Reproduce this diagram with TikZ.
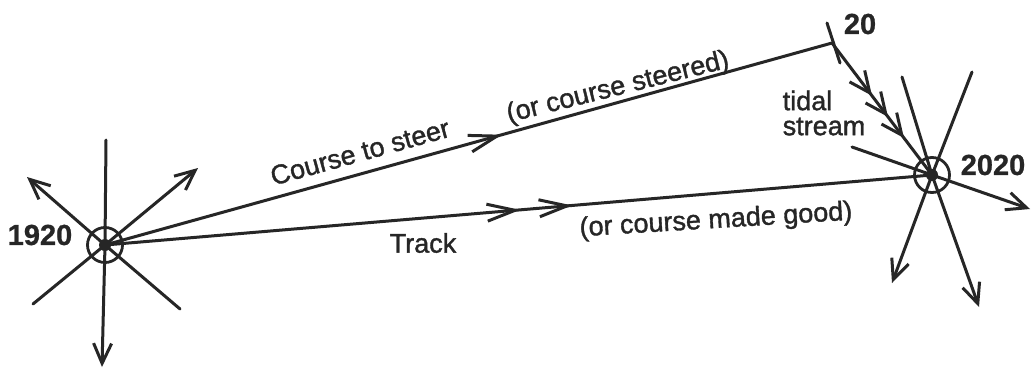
\documentclass[tikz,border=0pt]{standalone}
\usepackage{fontspec}
\setmainfont{Liberation Sans}
\newfontfamily\labfont{Liberation Sans}[FakeBold=1.3]
\newfontfamily\yrfont{Liberation Sans Bold}[FakeBold=0.8]
\usetikzlibrary{arrows.meta,decorations.markings}
\tikzset{
  endbarb/.tip={Straight Barb[length=10pt,width=9pt]},
  midbarb/.tip={Straight Barb[length=14pt,width=8.5pt]},
  tidebarb/.tip={Straight Barb[length=10.5pt,width=9.5pt]},
}
\begin{document}
\begin{tikzpicture}[x=0.5pt,y=-0.5pt,
  ln/.style={line width=1.5pt, line cap=round, draw=black!85},
  tipped/.style={ln, -{endbarb}},
  fix/.style={circle, draw=black!85, line width=1.4pt, minimum size=17.5pt, inner sep=0pt},
  yr/.style={font=\yrfont\fontsize{14.5}{16}\selectfont, text=black!85},
  lab/.style={font=\labfont\fontsize{13.5}{12.5}\selectfont, text=black!85},
]
\fill[white] (0,0) rectangle (1032,369);
\useasboundingbox (0,0) rectangle (1032,369);

% fixes
\node[fix] (A) at (105,245) {};
\node[fix] (B) at (932,175) {};
\coordinate (C) at (832,43);

% free ends around A
\coordinate (a1) at (27,177);
\coordinate (a2) at (180,309);
\coordinate (a3) at (198,168);
\coordinate (a4) at (33,304);
\coordinate (a5) at (106,140);
\coordinate (a6) at (102,367);

\draw[tipped] (A.center) -- (a1);
\draw[ln] (A.center) -- (a2);
\draw[tipped] (A.center) -- (a3);
\draw[ln] (A.center) -- (a4);
\draw[ln] (A.center) -- (a5);
\draw[tipped] (A.center) -- (a6);
\fill[black!85] (A.center) circle (3pt);

% free ends around B
\coordinate (b1) at (852,147);
\coordinate (b2) at (1030,209);
\coordinate (b3) at (902,77);
\coordinate (b4) at (979,307);
\coordinate (b5) at (972,72);
\coordinate (b6) at (892,283);

\draw[ln] (b1) -- (B.center);
\draw[tipped] (B.center) -- (b2);
\draw[ln] (b3) -- (B.center);
\draw[tipped] (B.center) -- (b4);
\draw[ln] (b5) -- (B.center);
\draw[tipped] (B.center) -- (b6);
\fill[black!85] (B.center) circle (3pt);

% tick at 20
\coordinate (c1) at (827,23);
\coordinate (c2) at (840,63);
\draw[ln] (c1) -- (c2);

% course to steer
\draw[ln, postaction={decorate}, decoration={markings,
  mark=at position 0.546 with {\arrow{midbarb}}}] (A.center) -- (C);

% track
\draw[ln, postaction={decorate}, decoration={markings,
  mark=at position 0.502 with {\arrow{midbarb}},
  mark=at position 0.565 with {\arrow{midbarb}}}] (A.center) -- (B.center);

% tidal stream
\draw[ln, postaction={decorate}, decoration={markings,
  mark=at position 0.40 with {\arrow{tidebarb}},
  mark=at position 0.56 with {\arrow{tidebarb}},
  mark=at position 0.72 with {\arrow{tidebarb}}}] (C) -- (B.center);

% labels
\node[yr] (t1920) at (40,235) {1920};
\node[yr] (t2020) at (993,165) {2020};
\node[yr] (t20) at (860,24) {20};
\node[lab, rotate=15.5] (lcts) at (360,152) {Course to steer};
\node[lab, rotate=14] (lcs) at (618,88) {(or course steered)};
\node[lab] (ltr) at (423,243) {Track};
\node[lab, rotate=3.5] (lcmg) at (716,221) {(or course made good)};
\node[lab, align=left] (ltid) at (824,113) {tidal\\stream};
\end{tikzpicture}
\end{document}
